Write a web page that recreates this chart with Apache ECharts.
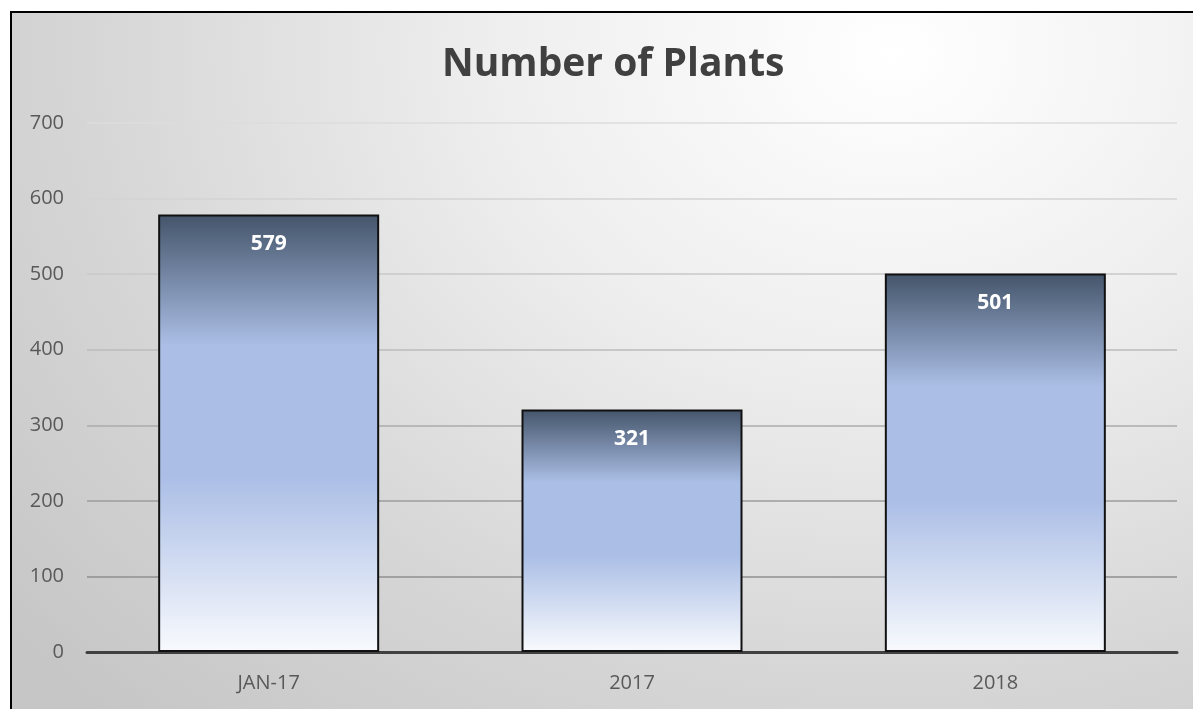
<!DOCTYPE html>
<html>
<head>
<meta charset="utf-8">
<script src="https://cdn.jsdelivr.net/npm/echarts@6/dist/echarts.min.js"></script>
<style>
  html, body { margin: 0; padding: 0; width: 1193px; height: 709px; overflow: hidden; background: #ffffff; }
  #frame {
    position: absolute; left: 10px; top: 11px; width: 1200px; height: 720px;
    border-left: 2px solid #000; border-top: 2px solid #000;
    background: radial-gradient(ellipse 1150px 900px at 880px 40px, #ffffff 0%, #eeeeee 35%, #d6d6d6 70%, #c6c6c6 100%);
  }
  #chart { position: absolute; left: 0; top: 0; width: 1193px; height: 709px; }
</style>
</head>
<body>
<div id="frame"></div>
<div id="chart"></div>
<script>
const categories = ['JAN-17', '2017', '2018'];
const plantCounts = [579, 321, 501];
const yTicks = [0, 100, 200, 300, 400, 500, 600, 700];
const chartTitle = 'Number of Plants';

const chart = echarts.init(document.getElementById('chart'), null, { renderer: 'canvas' });
const barGradient = new echarts.graphic.LinearGradient(0, 0, 0, 1, [
  { offset: 0, color: '#44546a' },
  { offset: 0.30, color: '#abbfe6' },
  { offset: 0.60, color: '#abbee6' },
  { offset: 1, color: '#f8fafd' }
]);
chart.setOption({
  backgroundColor: 'transparent',
  animation: false,
  title: {
    text: chartTitle,
    left: 437,
    top: 40,
    textStyle: { fontFamily: 'Open Sans', fontWeight: 'bold', fontSize: 39, color: '#404040' }
  },
  grid: { left: 87, right: 16, top: 123, bottom: 57 },
  xAxis: {
    type: 'category',
    data: categories,
    axisLine: { show: true, lineStyle: { color: '#404040', width: 3 } },
    axisTick: { show: false },
    axisLabel: { fontFamily: 'Open Sans', fontSize: 20, color: '#595959', margin: 21 }
  },
  yAxis: {
    type: 'value',
    min: yTicks[0],
    max: yTicks[yTicks.length - 1],
    interval: 100,
    axisLine: { show: false },
    axisTick: { show: false },
    axisLabel: { fontFamily: 'Open Sans', fontSize: 20, color: '#595959', margin: 23 },
    splitLine: {
      show: true,
      lineStyle: {
        width: 1.5,
        color: ['#888888', '#8f8f8f', '#9c9c9c', '#ababab', '#bbbbbb', '#c8c8c8', '#d3d3d3', '#dddddd']
      }
    }
  },
  series: [{
    type: 'bar',
    data: plantCounts,
    barWidth: 221,
    itemStyle: { color: barGradient, borderColor: '#111111', borderWidth: 2 },
    label: {
      show: true,
      position: 'insideTop',
      distance: 19,
      fontFamily: 'Open Sans',
      fontWeight: 'bold',
      fontSize: 21,
      color: '#ffffff'
    }
  }]
});
</script>
</body>
</html>
